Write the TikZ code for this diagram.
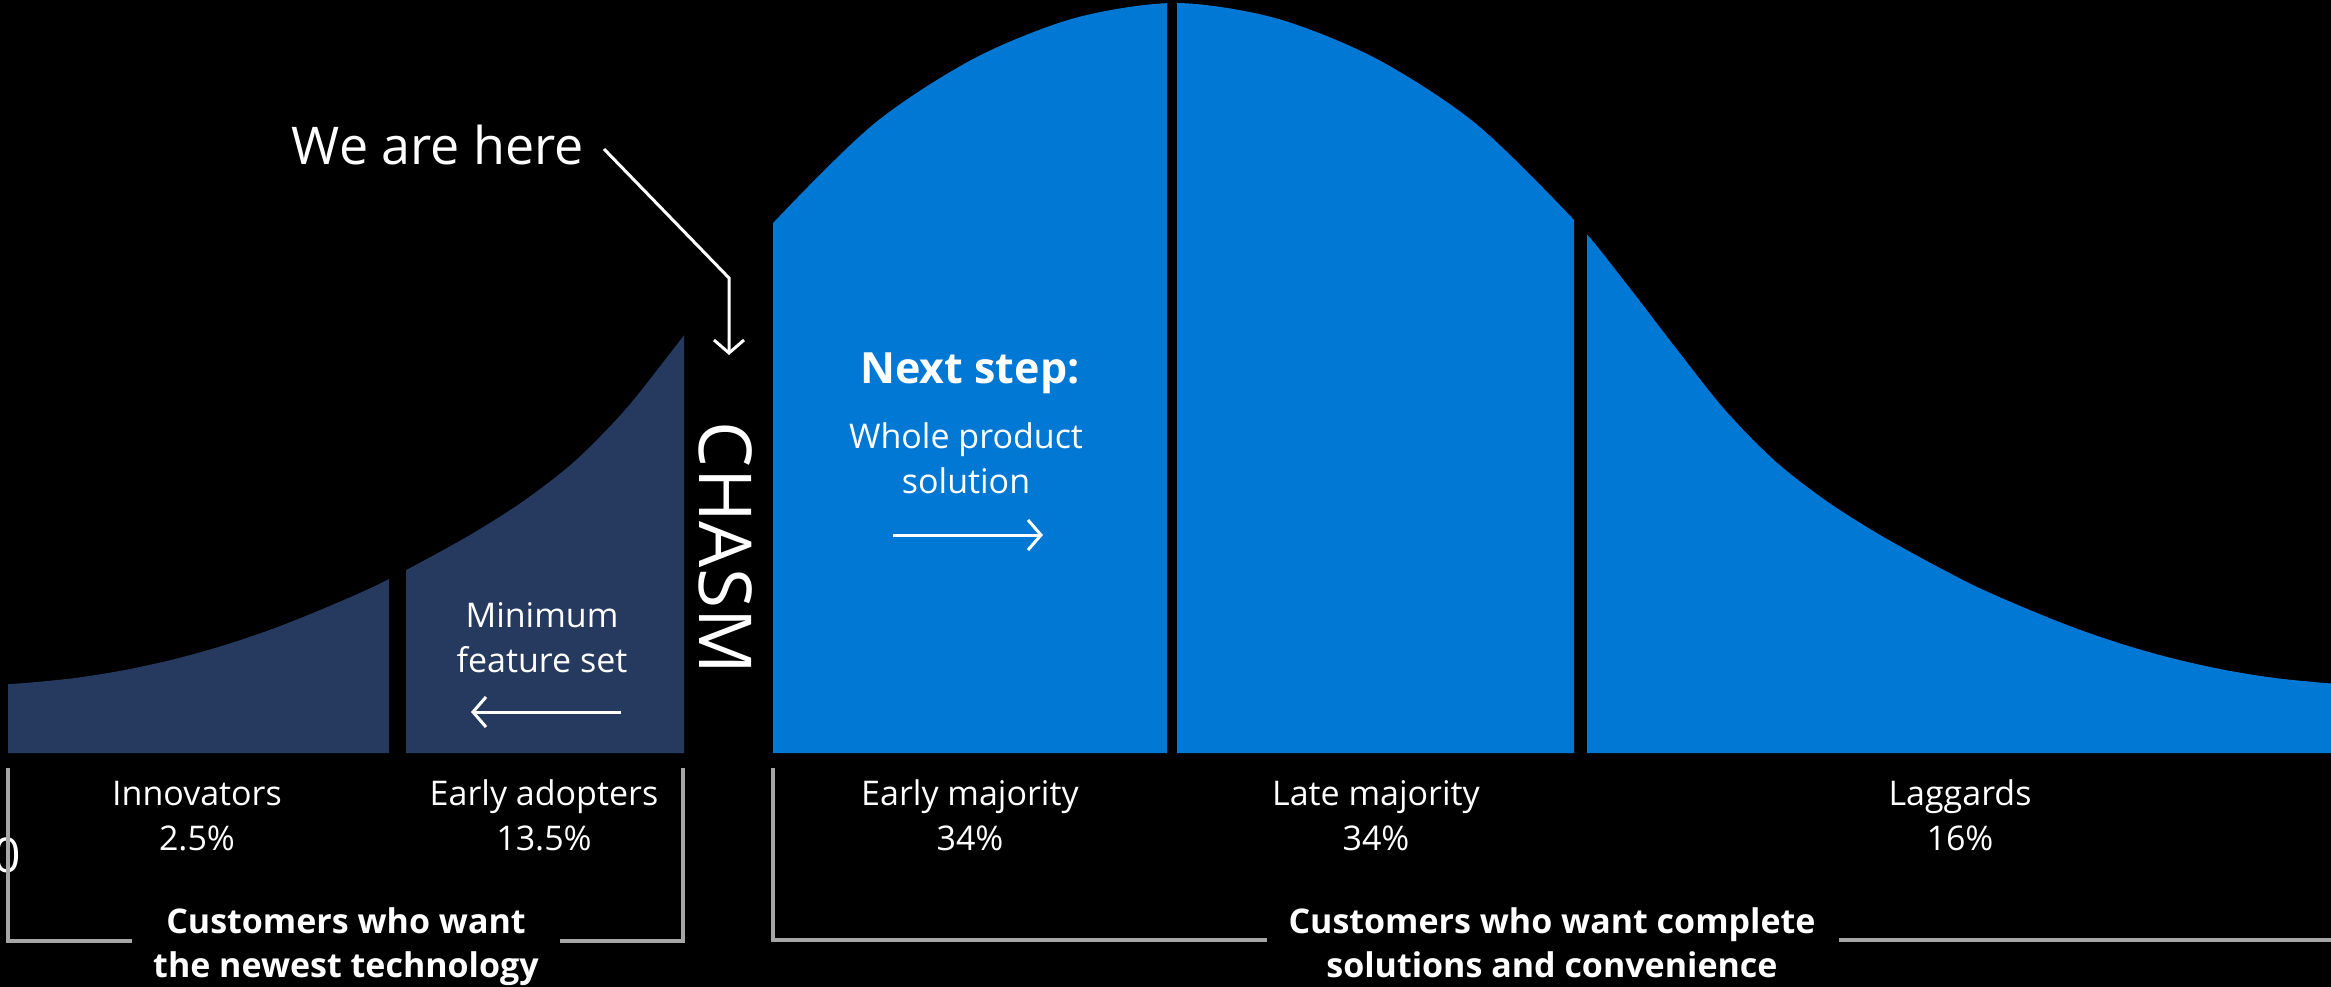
\documentclass[tikz,border=0pt]{standalone}
\usepackage{fontspec}
\setmainfont{Open Sans}
\usetikzlibrary{arrows.meta}
\definecolor{navy}{HTML}{263A5F}
\definecolor{msblue}{HTML}{0078D4}
\definecolor{brk}{HTML}{A6A6A6}
\begin{document}
\begin{tikzpicture}[x=1pt,y=-1pt,
  lbl/.style={text=white, font=\fontsize{34}{45}\selectfont, align=center, anchor=base, inner sep=0pt},
  boldlbl/.style={lbl, font=\fontsize{34}{44}\selectfont\bfseries},
  wline/.style={draw=white, line width=3pt},
  tipw/.style={-{Straight Barb[length=13pt,width=30pt]}},
  bracket/.style={draw=brk, line width=3.5pt}]
\fill[black] (0,0) rectangle (2331,987);
\useasboundingbox (0,0) rectangle (2331,987);
% bell curve segments
\foreach \xa/\xb/\col in {8/389/navy,406/684/navy,773/1167/msblue,1177/1574/msblue,1587/2331/msblue}{
  \begin{scope}
    \clip (\xa,0) rectangle (\xb,753);
    \fill[\col] (-20,753) -- plot[smooth] coordinates {(-20,686) (25,683) (75,678) (125,670) (175,659) (225,645) (275,628) (325,608) (375,586) (425,560) (475,532) (525,500) (575,461) (625,410) (675,347) (725,282) (775,221) (875,123) (975,58) (1075,18) (1175,3) (1275,18) (1375,58) (1475,123) (1575,221) (1625,282) (1675,347) (1725,410) (1775,461) (1825,500) (1875,532) (1925,560) (1975,586) (2025,608) (2075,628) (2125,645) (2175,659) (2225,670) (2275,678) (2325,683) (2360,685)} -- (2360,753) -- cycle;
  \end{scope}
}
% texts
\node[lbl, font=\fontsize{52}{60}\selectfont] (here) at (438,165) {We are here};
\node[lbl, font=\fontsize{73}{80}\selectfont, rotate=-90, anchor=center] (chasm) at (726,548) {CHASM};
\node[boldlbl, font=\fontsize{43}{50}\selectfont\bfseries] (next) at (970,383) {Next step:};
\node[lbl] (whole) at (966,493) {Whole product\\solution};
\node[lbl] (minfeat) at (542,672) {Minimum\\feature set};
\node[lbl] (innov) at (197,850) {Innovators\\2.5\%};
\node[lbl] (early) at (544,850) {Early adopters\\13.5\%};
\node[lbl] (emaj) at (970,850) {Early majority\\34\%};
\node[lbl] (lmaj) at (1376,850) {Late majority\\34\%};
\node[lbl] (lagg) at (1960,850) {Laggards\\16\%};
\node[lbl, font=\fontsize{48}{48}\selectfont] (zero) at (7,872) {0};
\node[boldlbl] (custL) at (346,977) {Customers who want\\the newest technology};
\node[boldlbl] (custR) at (1552,977) {Customers who want complete\\solutions and convenience};
% arrows
\coordinate (hereStart) at (604,149);
\coordinate (hereBend) at (729,278);
\coordinate (hereTip) at (729,355);
\draw[wline, tipw, line join=miter] (hereStart) -- (hereBend) -- (hereTip);
\coordinate (nsA) at (893,535);
\coordinate (nsB) at (1043,535);
\draw[wline, tipw] (nsA) -- (nsB);
\coordinate (mfA) at (621,712);
\coordinate (mfB) at (471,712);
\draw[wline, tipw] (mfA) -- (mfB);
% brackets
\coordinate (bl1) at (8,768);
\coordinate (bl2) at (8,941);
\coordinate (bl3) at (132,941);
\coordinate (bl4) at (560,941);
\coordinate (bl5) at (683,941);
\coordinate (bl6) at (683,768);
\draw[bracket] (bl1) -- (bl2) -- (bl3);
\draw[bracket] (bl4) -- (bl5) -- (bl6);
\coordinate (br1) at (773,768);
\coordinate (br2) at (773,940);
\coordinate (br3) at (1267,940);
\coordinate (br4) at (1839,940);
\coordinate (br5) at (2335,940);
\draw[bracket] (br1) -- (br2) -- (br3);
\draw[bracket] (br4) -- (br5);
\end{tikzpicture}
\end{document}
